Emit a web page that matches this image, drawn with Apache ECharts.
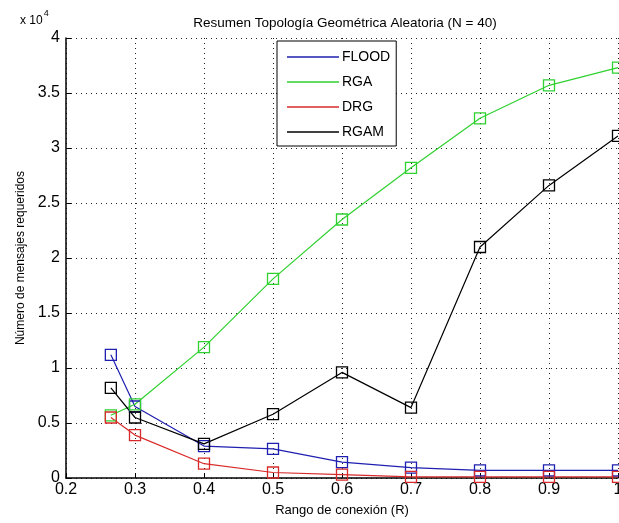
<!DOCTYPE html>
<html>
<head>
<meta charset="utf-8">
<script src="https://cdn.jsdelivr.net/npm/echarts@6/dist/echarts.min.js"></script>
<style>
  html, body { margin: 0; padding: 0; background: #fff; }
  #chart { width: 619px; height: 523px; }
</style>
</head>
<body>
<div id="chart"></div>
<script>
// rango de conexión R
const rango = [0.265, 0.3, 0.4, 0.5, 0.6, 0.7, 0.8, 0.9, 1.0]
// mensajes requeridos por protocolo
const flood = [11200, 6500, 2900, 2650, 1450, 950, 700, 700, 700]
const rga = [5700, 6700, 11900, 18100, 23500, 28200, 32700, 35700, 37300]
const drg = [5500, 3900, 1300, 500, 300, 100, 100, 100, 100]
const rgam = [8200, 5500, 3100, 5800, 9600, 6400, 21000, 26600, 31100]

const names = ['FLOOD', 'RGA', 'DRG', 'RGAM']
const colores = ['#1f1fb0', '#2fd12f', '#d82a2a', '#000000']
const valores = [flood, rga, drg, rgam]

const chart = echarts.init(document.getElementById('chart'))
const fuente = 'Liberation Sans, Arial, sans-serif'

const option = {
  animation: false,
  backgroundColor: '#fff',
  textStyle: { fontFamily: fuente },
  title: {
    text: 'Resumen Topología Geométrica Aleatoria (N = 40)',
    left: 340,
    top: 11,
    textAlign: 'center',
    textStyle: { fontSize: 13.5, fontWeight: 'normal', color: '#000', fontFamily: fuente }
  },
  graphic: [
    {
      type: 'text',
      left: 20,
      top: 9,
      style: {
        text: '{a|x 10}{b|4}',
        rich: {
          a: { fontSize: 12, fontFamily: fuente, fill: '#000', verticalAlign: 'bottom', lineHeight: 18 },
          b: { fontSize: 9, fontFamily: fuente, fill: '#000', verticalAlign: 'top', lineHeight: 18, padding: [0, 0, 8, 1] }
        }
      }
    }
  ],
  legend: {
    orient: 'vertical',
    left: 277,
    top: 41,
    padding: [9, 6, 7, 10],
    itemGap: 11,
    itemWidth: 52,
    itemHeight: 14,
    backgroundColor: '#fff',
    borderColor: '#000',
    borderWidth: 1,
    borderRadius: 0,
    textStyle: { fontSize: 14, color: '#000', fontFamily: fuente, padding: [0, 0, 0, -2] },
    data: names.map((n, i) => ({
      name: n,
      icon: 'path://M0,0 L52,0 L52,1.4 L0,1.4 Z',
      itemStyle: { color: colores[i], borderWidth: 0 }
    }))
  },
  grid: { left: 66, right: 1, top: 38, bottom: 45, containLabel: false, outerBoundsMode: 'none' },
  xAxis: {
    type: 'value',
    min: 0.2,
    max: 1,
    interval: 0.1,
    name: 'Rango de conexión (R)',
    nameLocation: 'middle',
    nameGap: 26,
    nameTextStyle: { fontSize: 13, color: '#000' },
    axisLine: { onZero: false, lineStyle: { color: '#000', width: 1.5 } },
    axisTick: { inside: true, length: 5, lineStyle: { color: '#000' } },
    axisLabel: {
      fontSize: 16,
      color: '#000',
      margin: 4,
      formatter: v => String(+v.toFixed(1))
    },
    splitLine: { show: true, lineStyle: { type: [1, 4], color: '#222', width: 1 } }
  },
  yAxis: {
    type: 'value',
    min: 0,
    max: 40000,
    interval: 5000,
    name: 'Número de mensajes requeridos',
    nameLocation: 'middle',
    nameGap: 37,
    nameRotate: 90,
    nameTextStyle: { fontSize: 12, color: '#000' },
    axisLine: { show: true, lineStyle: { color: '#000', width: 1.5 } },
    axisTick: { show: true, inside: true, length: 5, lineStyle: { color: '#000' } },
    axisLabel: {
      fontSize: 16,
      color: '#000',
      margin: 6,
      formatter: v => String(v / 10000)
    },
    splitLine: { show: true, lineStyle: { type: [1, 4], color: '#222', width: 1 } }
  },
  series: names.map((n, i) => ({
    name: n,
    type: 'line',
    data: rango.map((r, j) => [r, valores[i][j]]),
    symbol: 'rect',
    symbolSize: 11,
    showAllSymbol: true,
    itemStyle: { color: 'rgba(0,0,0,0)', borderColor: colores[i], borderWidth: 1.3 },
    lineStyle: { color: colores[i], width: 1.2 },
    emphasis: { disabled: true }
  }))
}

chart.setOption(option)
</script>
</body>
</html>
